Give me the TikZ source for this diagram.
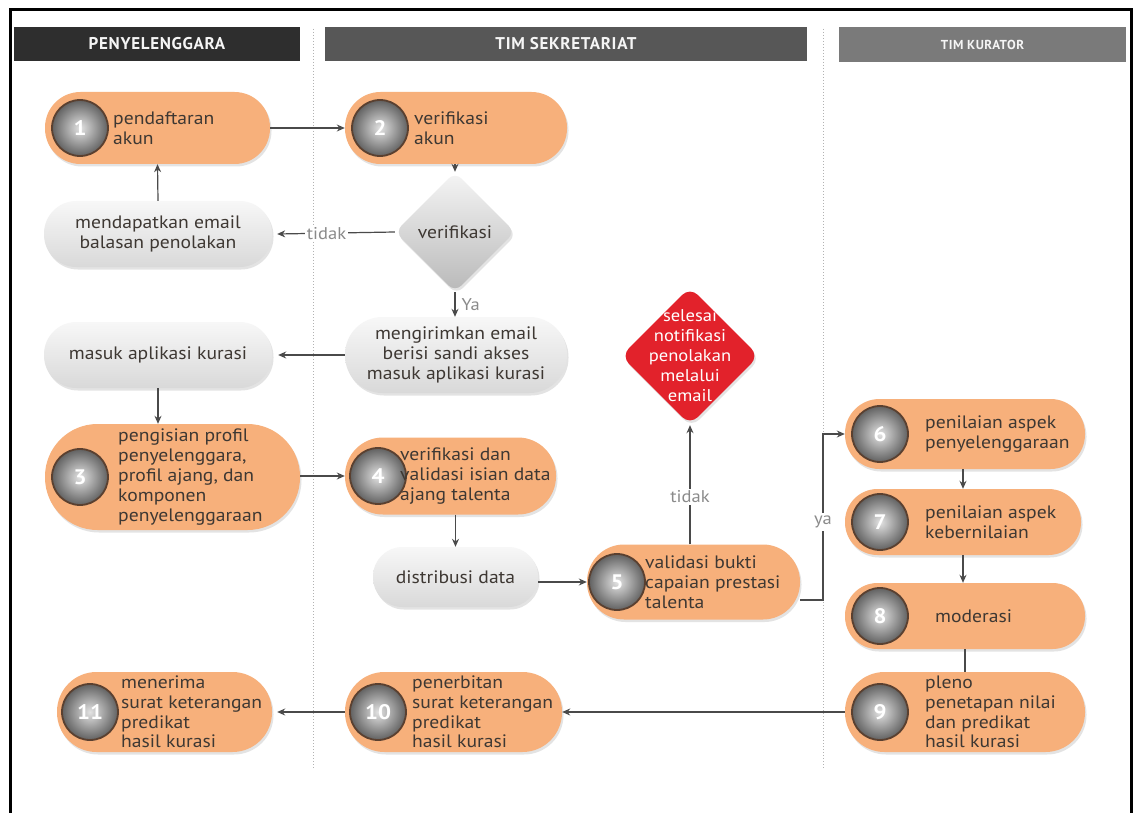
\documentclass[tikz,border=0pt]{standalone}
\usepackage{fontspec}
\setmainfont[FakeStretch=1.09]{PT Sans}
\newfontfamily\hdrfont[LetterSpace=4]{PT Sans}
\usetikzlibrary{shapes.geometric,arrows.meta,shadows}
\definecolor{orng}{HTML}{F7B07B}
\definecolor{txtc}{HTML}{3E3833}
\definecolor{linec}{HTML}{4A4A4A}
\definecolor{hdA}{HTML}{2E2E2E}
\definecolor{hdB}{HTML}{575757}
\definecolor{hdC}{HTML}{7A7A7A}
\definecolor{redd}{HTML}{E2222B}
\definecolor{ringc}{HTML}{5A4030}
\definecolor{lblc}{HTML}{8A8A8A}
\tikzset{
  shd/.style={drop shadow={opacity=0.22, shadow xshift=1.5pt, shadow yshift=-2.5pt}},
  pill/.style={fill=orng, shd, inner sep=0pt, minimum height=#1, rounded corners=#1/2-0.5pt},
  gpill/.style={top color=gray!6, bottom color=gray!30, shd, inner sep=0pt, minimum height=#1,
     rounded corners=#1/2-0.5pt, align=center, text=txtc, font=\fontsize{18}{20}\selectfont},
  ball/.style={circle, minimum size=56pt, inner sep=0pt, draw=ringc, line width=1.8pt,
     inner color=gray!22, outer color=black!62, text=white,
     font=\fontsize{21}{21}\selectfont\bfseries},
  txt/.style={anchor=west, align=left, inner sep=0pt, text=txtc, font=\fontsize{18}{19.8}\selectfont},
  hdr/.style={inner sep=0pt, text=white!92!gray, font=\hdrfont\fontsize{17}{17}\selectfont\bfseries},
  arr/.style={draw=linec, line width=1.2pt, -{Stealth[length=8pt,width=7pt]}},
  plain/.style={draw=linec, line width=1.2pt},
  lbl/.style={text=lblc, font=\fontsize{17}{17}\selectfont, inner sep=2pt, fill=white},
  divider/.style={draw=gray!60, dotted, line width=1pt},
}
\begin{document}
\begin{tikzpicture}[x=1pt,y=-1pt]
\useasboundingbox (0,0) rectangle (1138,813);
\fill[white] (0,0) rectangle (1138,813);
% frame
\draw[line width=3pt] (10,830) -- (10,9.5) -- (1131,9.5) -- (1131,830);
% headers
\node[hdr, fill=hdA, minimum width=286pt, minimum height=34pt] (h1) at (157,44) {PENYELENGGARA};
\node[hdr, fill=hdB, minimum width=482pt, minimum height=34pt] (h2) at (566,44) {TIM SEKRETARIAT};
\node[hdr, fill=hdC, minimum width=287pt, minimum height=35pt, font=\hdrfont\fontsize{13}{13}\selectfont\bfseries] (h3) at (982.5,45) {TIM KURATOR};
% dividers
\coordinate (dA1) at (313,29); \coordinate (dA2) at (313,768);
\coordinate (dB1) at (823,29); \coordinate (dB2) at (823,768);
\draw[divider] (dA1) -- (dA2);
\draw[divider] (dB1) -- (dB2);

% ---- nodes ----
% 1
\node[pill=72pt, minimum width=225pt] (n1) at (157.5,128) {};
\node[ball] (c1) at (80,128) {1};
\node[txt] (t1) at (113,128) {pendaftaran\\akun};
% 2
\node[pill=72pt, minimum width=222pt] (n2) at (456,128) {};
\node[ball] (c2) at (380,128) {2};
\node[txt] (t2) at (414,128) {verifikasi\\akun};
% decision
\node[diamond, minimum width=120pt, minimum height=120pt, inner sep=0pt, rounded corners=9pt,
  top color=gray!8, bottom color=gray!55, shd, text=txtc, font=\fontsize{18}{20}\selectfont] (dv) at (455,232) {verifikasi};
% gray pills
\node[gpill=66pt, minimum width=228pt] (g1) at (158,234) {mendapatkan email\\balasan penolakan};
\node[gpill=76pt, minimum width=222pt] (g2) at (456,355) {mengirimkan email\\berisi sandi akses\\masuk aplikasi kurasi};
\node[gpill=66pt, minimum width=228pt] (g3) at (158,355) {masuk aplikasi kurasi};
% 3
\node[pill=106pt, minimum width=255pt] (n3) at (172.5,477) {};
\node[ball] (c3) at (80,477) {3};
\node[txt] (t3) at (118,477) {pengisian profil\\penyelenggara,\\profil ajang, dan\\komponen\\penyelenggaraan};
% 4
\node[pill=77pt, minimum width=211pt] (n4) at (450.5,476) {};
\node[ball] (c4) at (378,476) {4};
\node[txt] (t4) at (400,476) {verifikasi dan\\validasi isian data\\ajang talenta};
% distribusi
\node[gpill=60pt, minimum width=165pt] (gd) at (455.5,577) {distribusi data};
% 5
\node[pill=75pt, minimum width=213pt] (n5) at (693.5,582) {};
\node[ball] (c5) at (617,582) {5};
\node[txt] (t5) at (645,582) {validasi bukti\\capaian prestasi\\talenta};
% red end
\node[diamond, minimum width=138pt, minimum height=138pt, inner sep=0pt, rounded corners=11pt,
  fill=redd, shd] (rd) at (690,356) {};
\node[align=center, text=white, inner sep=0pt, font=\fontsize{17}{20}\selectfont] (rdt) at (rd) {selesai\\notifikasi\\penolakan\\melalui\\email};
% 6 - 9
\node[pill=70pt, minimum width=240pt] (n6) at (965,434) {};
\node[ball] (c6) at (880,434) {6};
\node[txt] (t6) at (925,434) {penilaian aspek\\penyelenggaraan};
\node[pill=66pt, minimum width=236pt] (n7) at (963,522) {};
\node[ball] (c7) at (880,522) {7};
\node[txt] (t7) at (925,522) {penilaian aspek\\kebernilaian};
\node[pill=66pt, minimum width=240pt] (n8) at (965,616) {};
\node[ball] (c8) at (880,616) {8};
\node[txt] (t8) at (935,616) {moderasi};
\node[pill=80pt, minimum width=240pt] (n9) at (965,712) {};
\node[ball] (c9) at (880,712) {9};
\node[txt] (t9) at (925,712) {pleno\\penetapan nilai\\dan predikat\\hasil kurasi};
% 10, 11
\node[pill=80pt, minimum width=217pt] (n10) at (453.5,712) {};
\node[ball] (c10) at (378,712) {10};
\node[txt] (t10) at (412,712) {penerbitan\\surat keterangan\\predikat\\hasil kurasi};
\node[pill=80pt, minimum width=215pt] (n11) at (164.5,712) {};
\node[ball] (c11) at (90,712) {11};
\node[txt] (t11) at (121,712) {menerima\\surat keterangan\\predikat\\hasil kurasi};

% ---- connectors ----
\draw[arr] (n1) -- (n2);
\draw[arr] (dv.north |- n2.south) -- (dv.north);
\draw[arr] (dv.west) -- node[lbl, pos=0.58]{tidak} ([xshift=5pt]g1.east);
\draw[arr] (g1.north) -- (n1.south);
\draw[arr] (dv.south) -- node[lbl, fill=none, anchor=west, xshift=4pt]{Ya} (dv.south |- g2.north);
\draw[arr] (g2.west) -- ([xshift=6pt]g3.east);
\draw[arr] (g3.south) -- (g3.south |- n3.north);
\draw[arr] (n3.east |- n4.west) -- (n4.west);
\draw[arr] (gd.north |- n4.south) -- (gd.north);
\draw[arr] (gd.east |- n5.west) -- (n5.west);
\draw[arr] (rd.south |- n5.north) -- node[lbl, pos=0.4]{tidak} (rd.south);
\coordinate (ya) at (823,600);
\draw[arr] ([yshift=-18pt]n5.east) -- (ya) -- node[lbl, pos=0.47, inner sep=3pt]{ya} (ya |- n6.west) -- (n6.west);
\draw[arr] (n6.south -| n7.north) -- (n7.north);
\draw[arr] (n7.south) -- (n7.south |- n8.north);
\draw[plain] (n8.south) -- (n9.north);
\draw[arr] (n9.west) -- (n10.east);
\draw[arr] (n10.west) -- ([xshift=5pt]n11.east);
\end{tikzpicture}
\end{document}
